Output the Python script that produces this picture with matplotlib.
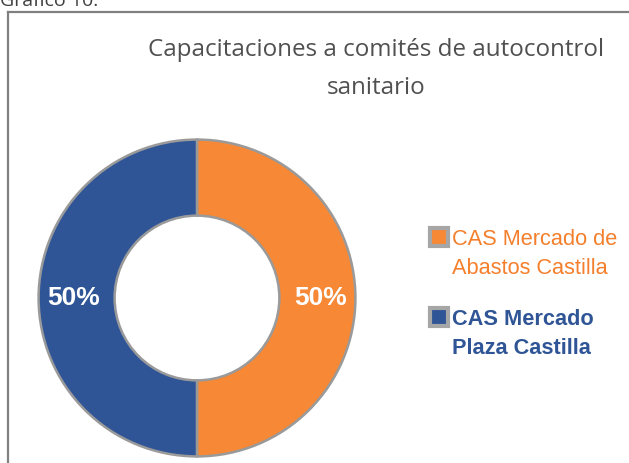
import matplotlib.pyplot as plt
from matplotlib.lines import Line2D

# data
categorias = ["CAS Mercado de\nAbastos Castilla", "CAS Mercado\nPlaza Castilla"]
valores = [50, 50]
colores = ["#F68836", "#2F5597"]
colores_texto = ["#F47F2C", "#2F5597"]
pesos = ["normal", "bold"]
titulo = "Capacitaciones a comités de autocontrol\nsanitario"
encabezado = "Gráfico 10."

W, H = 629, 463
fig = plt.figure(figsize=(W / 100, H / 100), dpi=100)
fig.patch.set_facecolor("white")

# marco del grafico (solo se ven la linea izquierda y la superior)
fig.add_artist(Line2D([8 / W, 8 / W], [0, 1 - 12 / H], transform=fig.transFigure,
                      color="#808080", lw=1.6))
fig.add_artist(Line2D([8 / W, 1], [1 - 12 / H, 1 - 12 / H], transform=fig.transFigure,
                      color="#808080", lw=1.6))

fig.text(0 / W, 1 - 6 / H, encabezado, fontsize=14, family="Open Sans",
         color="#404040", va="baseline", ha="left")

fig.text(376 / W, 1 - 69 / H, titulo, fontsize=17.4, family="Open Sans",
         color="#505050", ha="center", va="center", linespacing=1.75)

# dona
cx, cy, r = 197, 298, 160
ax = fig.add_axes([(cx - r) / W, (H - cy - r) / H, 2 * r / W, 2 * r / H])

wedges, textos, pct = ax.pie(
    valores, colors=colores, startangle=90, counterclock=False, radius=1.0,
    wedgeprops=dict(width=0.48, edgecolor="#9a9a9a", linewidth=1.8),
    autopct=lambda p: f"{p:.0f}%", pctdistance=0.78,
    textprops=dict(color="white", fontsize=19, fontweight="bold",
                   family="Liberation Sans"))
ax.set_xlim(-1.01, 1.01)
ax.set_ylim(-1.01, 1.01)
ax.set_aspect("auto")
ax.axis("off")

# leyenda: marcador alineado con la primera linea de cada etiqueta
paso = 80
for i, (lab, c, ct, w) in enumerate(zip(categorias, colores, colores_texto, pesos)):
    y1 = 244 + paso * i          # base de la primera linea
    fig.add_artist(Line2D([439 / W], [1 - (y1 - 7) / H], transform=fig.transFigure,
                          marker="s", ls="", markersize=12.5, markerfacecolor=c,
                          markeredgecolor="#a6a6a6", markeredgewidth=3))
    # va="baseline" alinea la ultima linea
    fig.text(452 / W, 1 - (y1 + 30) / H, lab, color=ct, fontweight=w, fontsize=15.7,
             family="Liberation Sans", ha="left", va="baseline", linespacing=1.52)

fig.savefig("out.png", dpi=100)
